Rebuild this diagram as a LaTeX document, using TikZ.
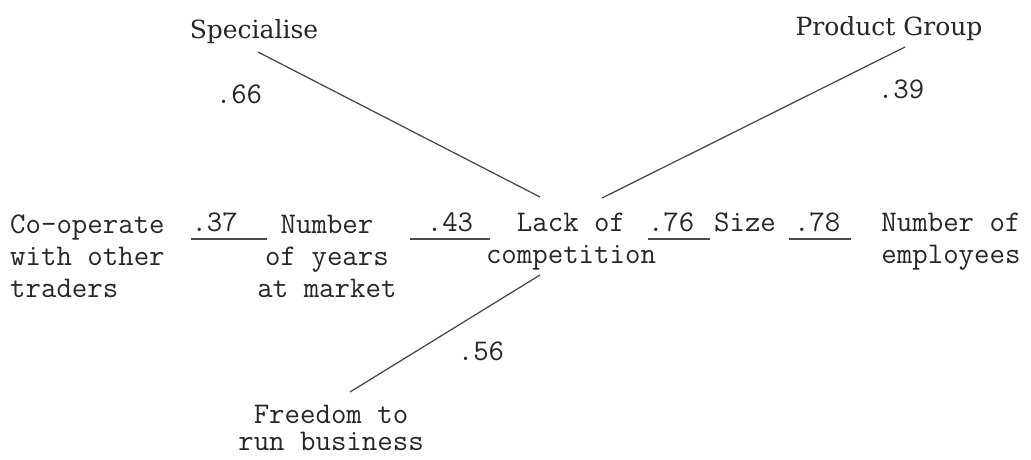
\documentclass[tikz,border=0pt]{standalone}
\usepackage{fontspec}
\newfontfamily\topserif{DejaVu Serif}
\usetikzlibrary{positioning}
\newcommand{\vartype}{\fontsize{30}{32}\selectfont\ttfamily}
\newcommand{\toptype}{\fontsize{25}{30}\selectfont\topserif}
\tikzset{
  % variable of the path model
  var/.style={font=\vartype, align=center, inner sep=0pt, anchor=base, text=black!85},
  % outer variable at the top
  topvar/.style={font=\toptype, inner sep=0pt, anchor=base, text=black!85},
  % path coefficient
  coef/.style={font=\vartype, inner sep=0pt, anchor=base, text=black!85},
  % coefficient set at the left of its line
  coefl/.style={coef, align=left, text width=#1},
  % link between two variables
  link/.style={line width=1.3pt, black!70},
}
\begin{document}
\begin{tikzpicture}[x=1pt, y=-1pt]
  \useasboundingbox (0,0) rectangle (1031,459);
  % variables (base = baseline of the last line)
  \node[var, anchor=base west, align=left] (coop) at (10,297) {Co-operate\\with other\\traders};
  \node[var] (years) at (327,297) {Number\\of years\\at market};
  \node[var] (lack) at (571,263) {Lack of\\competition};
  \node[var] (size) at (745,231) {Size};
  \node[var] (staff) at (951,263) {Number of\\employees};
  \node[var, font=\fontsize{30}{27.5}\selectfont\ttfamily] (free) at (331,450.5) {Freedom to\\run business};
  \node[topvar] (spec) at (254,38) {Specialise};
  \node[topvar] (prod) at (889,35) {Product Group};
  % coefficients along the row
  \node[coefl=75pt] (r37) at (229,231) {.37};
  \node[coef, minimum width=80pt] (r43) at (450,231) {.43};
  \node[coefl=62pt] (r76) at (679,231) {.76};
  \node[coefl=62pt] (r78) at (820,231) {\,.78};
  \foreach \r in {r37,r43,r76,r78}
    \draw[link] ([yshift=-8pt]\r.base west) -- ([yshift=-8pt]\r.base east);
  % coefficients of the slanted links
  \node[coef] (r66) at (239,103) {.66};
  \node[coef] (r39) at (901,98) {.39};
  \node[coef] (r56) at (481,360) {.56};
  \draw[link] ([xshift=4pt, yshift=-14pt]spec.base) -- ([xshift=-31pt, yshift=66pt]lack.base);
  \draw[link] ([xshift=16pt, yshift=-12pt]prod.base) -- ([xshift=31pt, yshift=65pt]lack.base);
  \draw[link] ([xshift=-31pt, yshift=-12pt]lack.base) -- ([xshift=19pt, yshift=58.5pt]free.base);
\end{tikzpicture}
\end{document}
